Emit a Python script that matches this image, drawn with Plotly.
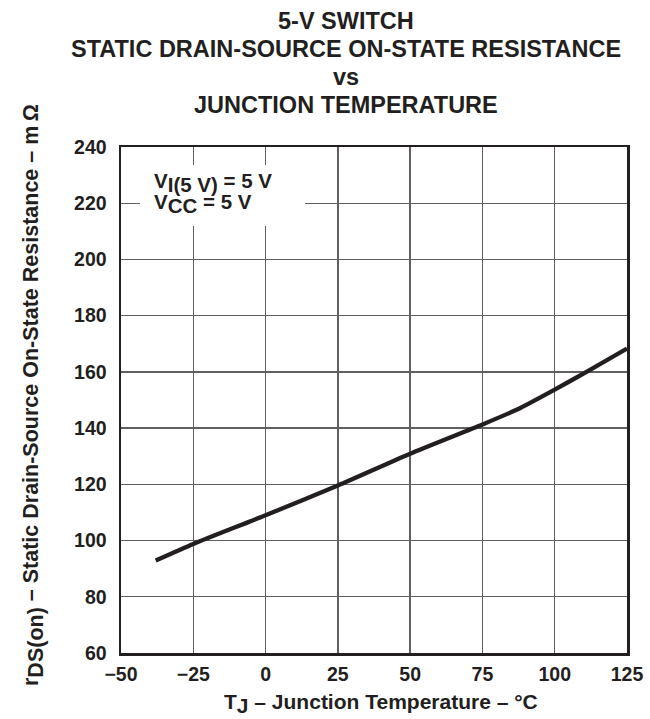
import plotly.graph_objects as go

# Data
temp_c = [-38, -25, 0, 25, 50, 75, 87, 100, 111, 125]
rds_on_mohm = [92.9, 98.8, 109.0, 119.6, 130.9, 141.3, 146.6, 153.7, 160.0, 168.3]

x_ticks = [-50, -25, 0, 25, 50, 75, 100, 125]
y_ticks = [60, 80, 100, 120, 140, 160, 180, 200, 220, 240]

title_lines = ["5-V SWITCH", "STATIC DRAIN-SOURCE ON-STATE RESISTANCE", "vs", "JUNCTION TEMPERATURE"]

W, H = 650, 719
L, R, T, B = 121, 23, 147, 66
PW, PH = W - L - R, H - T - B
INK = "#231f20"
FONT = "Liberation Sans, Arial, sans-serif"


def px_x(x):
    return (x - L) / PW


def px_y(y):
    return (H - B - y) / PH


fig = go.Figure()
fig.add_trace(go.Scatter(
    x=temp_c, y=rds_on_mohm, mode="lines",
    line=dict(color=INK, width=4.3, shape="spline", smoothing=0.6),
    hoverinfo="skip", showlegend=False,
))

axis_common = dict(
    showline=True, mirror=True, linecolor=INK, linewidth=2.5,
    showgrid=True, gridcolor="#606060", gridwidth=1.4,
    zeroline=False, ticks="", fixedrange=True,
    tickfont=dict(family=FONT, size=19.5, color=INK, weight="bold"),
)

fig.update_layout(
    width=W, height=H,
    margin=dict(l=L, r=R, t=T, b=B, autoexpand=False),
    paper_bgcolor="white", plot_bgcolor="white",
    xaxis=dict(range=[-50, 125], tickvals=x_ticks, ticklabelstandoff=2, **axis_common),
    yaxis=dict(range=[60, 240], tickvals=y_ticks, ticklabelstandoff=8, **axis_common),
    font=dict(family=FONT, color=INK),
)

# white box behind the condition text
fig.add_shape(type="rect", xref="paper", yref="paper",
              x0=px_x(140), x1=px_x(305), y0=px_y(226), y1=px_y(165),
              fillcolor="white", line=dict(width=0), layer="above")

title_y = [21, 49, 77, 105]
for txt, yy in zip(title_lines, title_y):
    fig.add_annotation(text=txt, xref="paper", yref="paper", x=px_x(346), y=px_y(yy),
                       xanchor="center", yanchor="middle", showarrow=False,
                       font=dict(family=FONT, size=23.5, color=INK, weight="bold"))

sub = "<sub><span style='font-size:20.5px'>%s</span></sub>"
fig.add_annotation(text="V" + sub % "I(5 V)" + " = 5 V", xref="paper", yref="paper",
                   x=px_x(152), y=px_y(182), xanchor="left", yanchor="middle", showarrow=False,
                   font=dict(family=FONT, size=20.5, color=INK, weight="bold"))
fig.add_annotation(text="V" + sub % "CC" + " = 5 V", xref="paper", yref="paper",
                   x=px_x(152), y=px_y(203), xanchor="left", yanchor="middle", showarrow=False,
                   font=dict(family=FONT, size=20.5, color=INK, weight="bold"))

# axis titles
fig.add_annotation(text="T" + "<sub><span style='font-size:21px'>J</span></sub>" + " \u2013 Junction Temperature \u2013 \u00b0C",
                   xref="paper", yref="paper", x=px_x(381), y=px_y(703),
                   xanchor="center", yanchor="middle", showarrow=False,
                   font=dict(family=FONT, size=21, color=INK, weight="bold"))
fig.add_annotation(text="r" + "<sub><span style='font-size:21.5px'>DS(on)</span></sub>" + " \u2013 Static Drain-Source On-State Resistance \u2013 m\u2009\u03a9",
                   xref="paper", yref="paper", x=px_x(33), y=px_y(395), textangle=-90,
                   xanchor="center", yanchor="middle", showarrow=False,
                   font=dict(family=FONT, size=21.5, color=INK, weight="bold"))

fig.write_html("out.html", config={"displayModeBar": False, "staticPlot": True},
               post_script="document.body.style.margin='0';")
